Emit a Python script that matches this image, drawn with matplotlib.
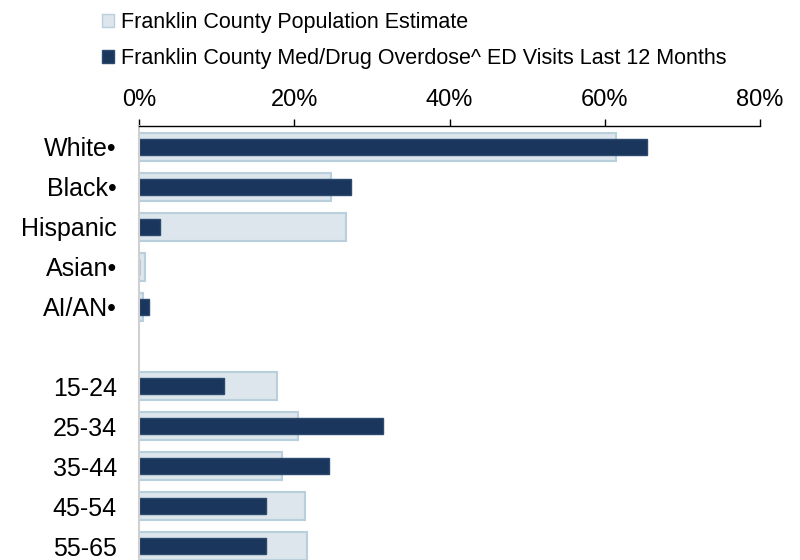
import matplotlib.pyplot as plt
from matplotlib.patches import Patch

plt.rcParams['font.family'] = ['Liberation Sans', 'DejaVu Sans']

# Категорії (порожній рядок - розрив між групами)
categories = ["White•", "Black•", "Hispanic", "Asian•", "AI/AN•", "",
              "15-24", "25-34", "35-44", "45-54", "55-65"]
population = [61.5, 24.7, 26.6, 0.7, 0.5, None, 17.8, 20.4, 18.4, 21.4, 21.6]
overdose = [65.5, 27.3, 2.7, 0.0, 1.3, None, 10.9, 31.4, 24.5, 16.4, 16.4]
xticks = [0, 20, 40, 60, 80]
xtick_labels = ["0%", "20%", "40%", "60%", "80%"]

pop_color = "#dce6ec"
pop_edge = "#b9cfdc"
od_color = "#1b365d"
od_edge = "#2c4a70"

fig = plt.figure(figsize=(8, 5.6), dpi=100)
ax = fig.add_axes([0.174, 0.0, 0.776, 0.775])

rows = [i for i, v in enumerate(population) if v is not None]
pop_vals = [population[i] for i in rows]
od_vals = [overdose[i] for i in rows]

ax.barh(rows, pop_vals, height=0.7, color=pop_color, edgecolor=pop_edge, linewidth=1.5)
ax.barh(rows, od_vals, height=0.4, color=od_color, edgecolor=od_edge, linewidth=1)

ax.set_xlim(0, 80)
ax.set_ylim(10.35, -0.525)
ax.set_yticks(range(len(categories)))
ax.set_yticklabels(categories, fontsize=18)
ax.tick_params(axis="y", length=0, pad=16)

ax.xaxis.tick_top()
ax.set_xticks(xticks)
ax.set_xticklabels(xtick_labels, fontsize=17)
ax.tick_params(axis="x", direction="out", length=5, width=1, pad=5.5, colors="black")

ax.spines["right"].set_visible(False)
ax.spines["bottom"].set_visible(False)
ax.spines["left"].set_color("#d0d0d0")
ax.spines["left"].set_linewidth(1.5)
ax.spines["top"].set_color("black")
ax.spines["top"].set_linewidth(1)

handles = [Patch(facecolor=pop_color, edgecolor=pop_edge, linewidth=1),
           Patch(facecolor=od_color, edgecolor=od_edge, linewidth=1)]
labels = ["Franklin County Population Estimate",
          "Franklin County Med/Drug Overdose^ ED Visits Last 12 Months"]
fig.legend(handles, labels, loc="upper left", bbox_to_anchor=(0.128, 0.979),
           frameon=False, fontsize=15.5, handlelength=0.55, handleheight=0.55,
           handletextpad=0.3, labelspacing=0.7, borderaxespad=0, borderpad=0)

fig.savefig("out.png", dpi=100)
